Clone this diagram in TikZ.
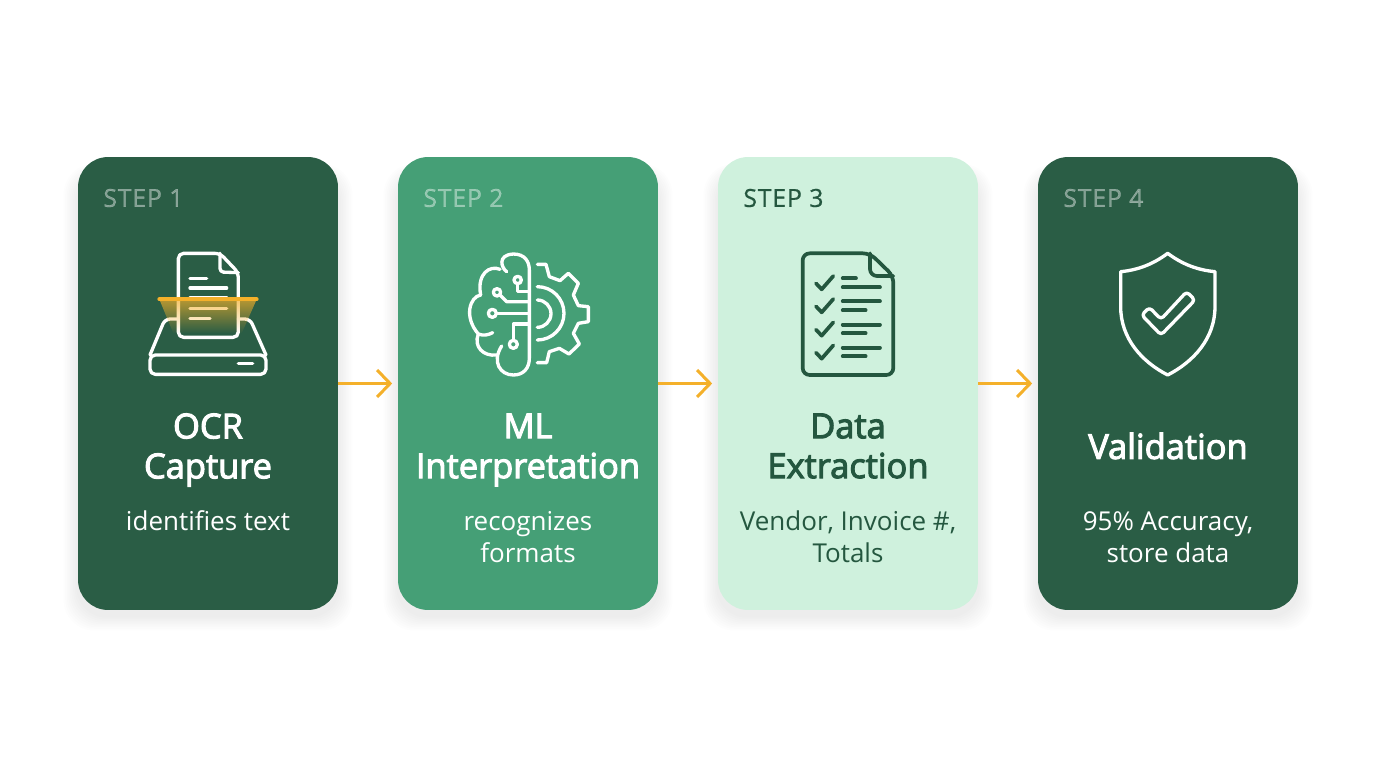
\documentclass[tikz,border=0pt]{standalone}
\usepackage{fontspec}
\setmainfont{Open Sans}
\newfontfamily\stepfont{Open Sans}[LetterSpace=3,FakeBold=0.6]
\newfontfamily\titlefont{Open Sans}[FakeBold=3]
\usetikzlibrary{arrows.meta,fadings}
\definecolor{darkgreen}{HTML}{2A5D45}
\definecolor{midgreen}{HTML}{459F76}
\definecolor{palegreen}{HTML}{CFF1DD}
\definecolor{inkgreen}{HTML}{24573F}
\definecolor{amber}{HTML}{F4B02A}
\begin{document}
\begin{tikzpicture}[x=0.02cm,y=-0.02cm]
    \tikzstyle{card}=[rounded corners=0.6cm,minimum width=5.2cm,minimum height=9.06cm,inner sep=0pt]
    \tikzstyle{flow}=[line width=1.7pt,amber,-{Straight Barb[length=2.6mm,width=5.4mm,line width=1.7pt]},shorten >=1.1mm]
    \tikzstyle{steplabel}=[anchor=west,inner sep=0pt,font=\fontsize{14.2}{16}\stepfont]
    \tikzstyle{title}=[align=center,inner sep=0pt,font=\fontsize{19.6}{22.7}\titlefont]
    \tikzstyle{descr}=[align=center,inner sep=0pt,font=\fontsize{14.8}{18.1}\selectfont]
    \tikzstyle{icon}=[line width=1.9pt,line cap=round,line join=round]
    \useasboundingbox (0,0) rectangle (1376,768);
    \fill[white] (0,0) rectangle (1376,768);
    % soft shadows under the cards
    \foreach \cx in {208,528,848,1168}
        \foreach \g in {1,...,9}
            \fill[black,opacity=0.007,rounded corners=0.6cm]
                (\cx-130-\g*1.6,157+16-\g*1) rectangle (\cx+130+\g*1.6,610+6+\g*1.6);
    % cards
    \node[card,fill=darkgreen] (card1) at (208,383.5) {};
    \node[card,fill=midgreen]  (card2) at (528,383.5) {};
    \node[card,fill=palegreen] (card3) at (848,383.5) {};
    \node[card,fill=darkgreen] (card4) at (1168,383.5) {};
    % arrows between cards
    \draw[flow] (card1.east) -- (card2.west);
    \draw[flow] (card2.east) -- (card3.west);
    \draw[flow] (card3.east) -- (card4.west);
    % step 1
    \node[steplabel,text=white,text opacity=0.42] (step1) at (103,198) {STEP 1};
    \node[title,text=white] (title1) at (208,450) {OCR\\Capture};
    \node[descr,text=white] (descr1) at (208,521) {identifies text};
    \begin{scope}[shift={(130,240)},x=0.00667cm,y=-0.00667cm,icon,white]
        \draw[rounded corners=3pt] (60,345) -- (105,237) -- (145,237);
        \draw[rounded corners=3pt] (325,237) -- (360,237) -- (408,345);
        \draw[rounded corners=3pt] (60,345) rectangle (408,403);
        \draw (325,371) -- (368,371);
        \draw[rounded corners=3pt] (270,40) -- (145,40) -- (145,292) -- (325,292) -- (325,98) -- cycle;
        \draw[rounded corners=2pt] (270,40) -- (270,96) -- (325,98);
        \draw (180,115) -- (230,115);
        \draw (180,144) -- (290,144);
        \draw (180,174) -- (290,174);
        \draw (180,205) -- (290,205);
        \draw (180,235) -- (240,235);
        \fill[amber,opacity=0.7,path fading=south] (88,178) -- (380,178) -- (335,280) -- (130,280) -- cycle;
        \draw[amber,line width=2.2pt] (88,178) -- (380,178);
    \end{scope}
    % step 2
    \node[steplabel,text=white,text opacity=0.42] (step2) at (423,198) {STEP 2};
    \node[title,text=white] (title2) at (528,450) {ML\\Interpretation};
    \node[descr,text=white] (descr2) at (528,537) {recognizes\\formats};
    \begin{scope}[shift={(450,240)},x=0.00667cm,y=-0.00667cm,icon,white]
        % brain
        \draw (170,95) .. controls (155,85) and (140,45) .. (190,42)
              .. controls (225,42) and (238,65) .. (238,90) -- (238,355)
              .. controls (238,385) and (220,405) .. (190,405)
              .. controls (150,405) and (125,365) .. (155,318);
        \draw (150,88) .. controls (120,75) and (80,100) .. (92,165);
        \draw (92,165) .. controls (60,170) and (40,230) .. (85,282)
              .. controls (100,288) and (115,285) .. (128,278);
        \draw (85,282) .. controls (70,320) and (100,350) .. (140,345);
        \draw (203,120) circle (11);
        \draw (203,132) -- (203,155) -- (238,155);
        \draw (141,157) circle (11);
        \draw (150,165) -- (170,185) -- (238,185);
        \draw (127,220) circle (12);
        \draw (140,220) -- (238,220);
        \draw (190,313) circle (12);
        \draw (190,300) -- (190,252) -- (238,252);
        % gear
        \draw (262,73) -- (288,73) -- (298,110) -- (330,122) -- (355,100) -- (385,130) -- (370,165)
              -- (385,197) -- (415,200) -- (415,245) -- (385,250) -- (370,280) -- (388,312)
              -- (357,342) -- (328,325) -- (298,335) -- (290,368) -- (262,368);
        \draw (262,140) arc[start angle=-90,end angle=90,radius=80];
        \draw (262,180) arc[start angle=-90,end angle=90,radius=41];
    \end{scope}
    % step 3
    \node[steplabel,text=inkgreen] (step3) at (743,198) {STEP 3};
    \node[title,text=inkgreen] (title3) at (848,446) {Data\\Extraction};
    \node[descr,text=inkgreen] (descr3) at (848,537) {Vendor, Invoice \#,\\Totals};
    \begin{scope}[shift={(780,240)},x=0.00667cm,y=-0.00667cm,icon,inkgreen,line width=2.1pt]
        \draw[rounded corners=4pt] (270,40) -- (68,40) -- (68,405) -- (340,405) -- (340,108) -- cycle;
        \draw[rounded corners=4pt] (270,40) -- (270,108) -- (340,108);
        \foreach \dy in {0,69,139,208}
            \draw (108,130+\dy) -- (125,148+\dy) -- (160,108+\dy);
        \draw (188,115) -- (228,115);
        \draw (188,142) -- (300,142);
        \draw (188,184) -- (300,184);
        \draw (188,211) -- (257,211);
        \draw (188,254) -- (300,254);
        \draw (188,280) -- (257,280);
        \draw (188,323) -- (300,323);
        \draw (188,349) -- (257,349);
    \end{scope}
    % step 4
    \node[steplabel,text=white,text opacity=0.42] (step4) at (1063,198) {STEP 4};
    \node[title,text=white] (title4) at (1168,446) {Validation};
    \node[descr,text=white] (descr4) at (1168,537) {95\% Accuracy,\\store data};
    \begin{scope}[shift={(1100,240)},x=0.00667cm,y=-0.00667cm,icon,white]
        \draw (203,40) .. controls (160,72) and (115,90) .. (62,95) -- (62,200)
              .. controls (62,295) and (125,365) .. (203,405)
              .. controls (281,365) and (345,295) .. (345,200) -- (345,95)
              .. controls (291,90) and (246,72) .. (203,40) -- cycle;
        \draw[rounded corners=2pt] (125,225) -- (148,202) -- (183,238) -- (260,155) -- (285,180) -- (183,285) -- cycle;
    \end{scope}
\end{tikzpicture}
\end{document}
